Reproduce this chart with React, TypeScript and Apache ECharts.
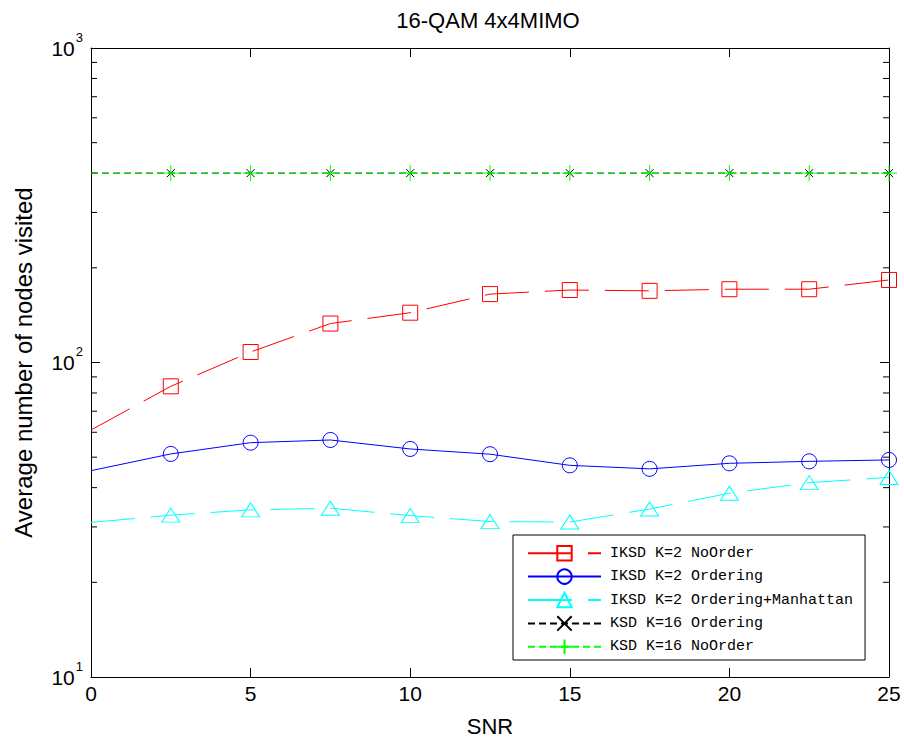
import React, { useEffect, useRef } from "react";
import * as echarts from "echarts";

const snr = [0, 2.5, 5, 7.5, 10, 12.5, 15, 17.5, 20, 22.5, 25];
const iksdNoOrder = [61, 84, 108, 133, 144, 165, 170, 169, 171, 171, 183];
const iksdOrdering = [45.3, 51.2, 55.6, 56.7, 53.1, 51.1, 47.1, 45.9, 47.8, 48.5, 49.0];
const iksdManhattan = [31.0, 32.7, 34.0, 34.4, 32.6, 31.2, 31.1, 34.2, 38.4, 41.5, 43.1];
const ksdOrdering = [400, 400, 400, 400, 400, 400, 400, 400, 400, 400, 400];
const ksdNoOrder = [400, 400, 400, 400, 400, 400, 400, 400, 400, 400, 400];
const minorTickValues = [20, 30, 40, 50, 60, 70, 80, 90, 200, 300, 400, 500, 600, 700, 800, 900];
const seriesNames = [
  "IKSD K=2 NoOrder",
  "IKSD K=2 Ordering",
  "IKSD K=2 Ordering+Manhattan",
  "KSD K=16 Ordering",
  "KSD K=16 NoOrder",
];

const FONT = "'Liberation Sans', Arial, Helvetica, sans-serif";

function pairs(ys: number[]) {
  return snr.map((x, i) => [x, ys[i]]);
}

export default function App() {
  const ref = useRef<HTMLDivElement>(null);
  useEffect(() => {
    if (!ref.current) return;
    document.body.style.margin = "0";
    document.body.style.overflow = "hidden";
    const chart = echarts.init(ref.current, null, { renderer: "svg" });
    const hideFirst = (size: any) => (_v: any, p: any) => (p.dataIndex === 0 ? 0 : size);
    const xPath = "path://M0,0L10,10M10,0L0,10";
    const plusPath = "path://M5,0L5,10M0,5L10,5";
    const option: any = {
      animation: false,
      backgroundColor: "#ffffff",
      grid: { left: 91, right: 15, top: 48, bottom: 65, show: false },
      graphic: [
        {
          type: "text",
          x: 488,
          y: 20,
          style: {
            text: "16-QAM 4x4MIMO",
            font: `22px ${FONT}`,
            fill: "#000",
            textAlign: "center",
            textVerticalAlign: "middle",
          },
        },
      ],
      legend: {
        orient: "vertical",
        left: 513,
        top: 535,
        data: seriesNames,
        itemWidth: 73,
        itemHeight: 18,
        itemGap: 7,
        padding: [10, 12, 5, 14],
        backgroundColor: "#ffffff",
        borderColor: "#000000",
        borderWidth: 1,
        borderRadius: 0,
        selectedMode: false,
        textStyle: {
          fontFamily: "'Liberation Mono', 'DejaVu Sans Mono', monospace",
          fontSize: 15,
          color: "#000",
          padding: [0, 0, 0, 4],
        },
      },
      xAxis: [
        {
          type: "value",
          min: 0,
          max: 25,
          interval: 5,
          position: "bottom",
          name: "SNR",
          nameLocation: "middle",
          nameGap: 38,
          nameTextStyle: { fontFamily: FONT, fontSize: 22, color: "#000" },
          axisLine: { show: true, onZero: false, lineStyle: { color: "#000", width: 1 } },
          axisTick: { show: true, inside: true, length: 9, lineStyle: { color: "#000" } },
          axisLabel: { fontFamily: FONT, fontSize: 21, color: "#000", margin: 6 },
          splitLine: { show: false },
        },
        {
          type: "value",
          min: 0,
          max: 25,
          interval: 5,
          position: "top",
          axisLine: { show: true, onZero: false, lineStyle: { color: "#000", width: 1 } },
          axisTick: { show: true, inside: true, length: 9, lineStyle: { color: "#000" } },
          axisLabel: { show: false },
          splitLine: { show: false },
        },
      ],
      yAxis: [
        {
          type: "log",
          logBase: 10,
          min: 10,
          max: 1000,
          position: "left",
          name: "Average number of nodes visited",
          nameLocation: "middle",
          nameGap: 56,
          nameRotate: 90,
          nameTextStyle: { fontFamily: FONT, fontSize: 24, color: "#000" },
          axisLine: { show: true, onZero: false, lineStyle: { color: "#000", width: 1 } },
          axisTick: { show: true, inside: true, length: 9, lineStyle: { color: "#000" } },
          axisLabel: {
            margin: 8,
            formatter: (v: number) => `{b|10}{e|${Math.round(Math.log10(v))}}`,
            rich: {
              b: { fontFamily: FONT, fontSize: 21, color: "#000" },
              e: {
                fontFamily: FONT,
                fontSize: 13,
                color: "#000",
                verticalAlign: "top",
                padding: [0, 0, 22, 1],
              },
            },
          },
          splitLine: { show: false },
        },
        {
          type: "log",
          logBase: 10,
          min: 10,
          max: 1000,
          position: "right",
          axisLine: { show: true, onZero: false, lineStyle: { color: "#000", width: 1 } },
          axisTick: { show: true, inside: true, length: 9, lineStyle: { color: "#000" } },
          axisLabel: { show: false },
          splitLine: { show: false },
        },
      ],
      series: [
        {
          type: "custom",
          name: "minorTicks",
          silent: true,
          xAxisIndex: 0,
          yAxisIndex: 0,
          data: minorTickValues.map((v) => [0, v]),
          encode: { x: 0, y: 1 },
          renderItem: (_params: any, api: any) => {
            const v = api.value(1);
            const l = api.coord([0, v]);
            const r = api.coord([25, v]);
            return {
              type: "group",
              children: [
                {
                  type: "line",
                  shape: { x1: l[0], y1: l[1], x2: l[0] + 6, y2: l[1] },
                  style: { stroke: "#000", lineWidth: 1 },
                },
                {
                  type: "line",
                  shape: { x1: r[0], y1: r[1], x2: r[0] - 6, y2: r[1] },
                  style: { stroke: "#000", lineWidth: 1 },
                },
              ],
            };
          },
        },
        {
          type: "line",
          name: seriesNames[0],
          data: pairs(iksdNoOrder),
          symbol: "rect",
          symbolSize: hideFirst(15),
          showAllSymbol: true,
          lineStyle: { color: "#ff0000", width: 1, type: [44, 16] },
          itemStyle: { color: "transparent", borderColor: "#ff0000", borderWidth: 1 },
          z: 3,
        },
        {
          type: "line",
          name: seriesNames[1],
          data: pairs(iksdOrdering),
          symbol: "circle",
          symbolSize: hideFirst(15),
          showAllSymbol: true,
          lineStyle: { color: "#0000ff", width: 1, type: "solid" },
          itemStyle: { color: "transparent", borderColor: "#0000ff", borderWidth: 1 },
          z: 3,
        },
        {
          type: "line",
          name: seriesNames[2],
          data: pairs(iksdManhattan),
          symbol: "triangle",
          symbolSize: hideFirst([18, 14]),
          showAllSymbol: true,
          lineStyle: { color: "#00ffff", width: 1, type: [44, 16] },
          itemStyle: { color: "transparent", borderColor: "#00ffff", borderWidth: 1 },
          z: 3,
        },
        {
          type: "line",
          name: seriesNames[3],
          data: pairs(ksdOrdering),
          symbol: xPath,
          symbolSize: hideFirst(8),
          showAllSymbol: true,
          lineStyle: { color: "#000000", width: 1, type: [7, 4] },
          itemStyle: { color: "transparent", borderColor: "#000000", borderWidth: 1 },
          z: 3,
        },
        {
          type: "line",
          name: seriesNames[4],
          data: pairs(ksdNoOrder),
          symbol: plusPath,
          symbolSize: hideFirst(16),
          showAllSymbol: true,
          lineStyle: { color: "#00ff00", width: 1, type: [7, 4] },
          itemStyle: { color: "transparent", borderColor: "#00ff00", borderWidth: 1 },
          z: 3,
        },
      ],
    };
    chart.setOption(option);
    return () => chart.dispose();
  }, []);
  return (
    <div
      ref={ref}
      style={{ position: "absolute", left: 0, top: 0, width: 904, height: 742 }}
    />
  );
}
